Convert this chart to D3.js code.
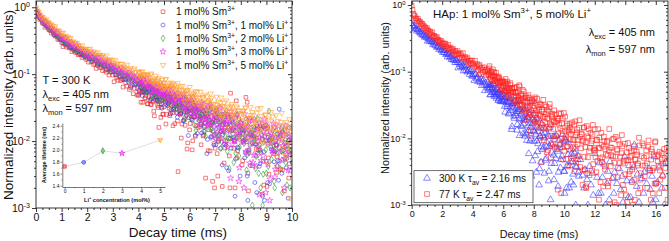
<!DOCTYPE html>
<html><head><meta charset="utf-8">
<script src="https://cdn.jsdelivr.net/npm/d3@7"></script>
<style>body{margin:0;background:#fff}svg{display:block}text{font-family:"Liberation Sans",Arial,Helvetica,sans-serif;fill:#111}</style>
</head><body><svg id="c" width="669" height="241"></svg>
<script>
// ---------------- DATA ----------------
// Left panel: decay curves, sampled every 0.05 ms from 0 to 10 ms (normalized intensity)
const leftStepMs = 0.05;
const decaySm1Li0 = [
0.94,0.74,0.74,0.66,0.67,0.58,0.57,0.5,0.53,0.51,0.46,0.45,0.41,0.44,0.39,0.37,0.37,0.33,0.335,0.33,
0.299,0.258,0.29,0.272,0.253,0.274,0.246,0.249,0.217,0.24,0.224,0.21,0.234,0.194,0.197,0.202,0.177,0.187,0.193,0.166,
0.174,0.151,0.169,0.152,0.168,0.139,0.145,0.122,0.142,0.142,0.124,0.127,0.113,0.135,0.114,0.107,0.117,0.097,0.107,0.109,
0.097,0.077,0.098,0.089,0.081,0.095,0.08,0.084,0.064,0.083,0.075,0.066,0.087,0.059,0.063,0.069,0.051,0.061,0.071,0.049,
0.048,0.054,0.038,0.055,0.058,0.043,0.048,0.036,0.058,0.04,0.035,0.047,0.028,0.04,0.046,0.034,0.016,0.039,0.032,0.025,
0.0325,0.038,0.025,0.051,0.031,0.026,0.039,0.017,0.033,0.039,0.027,0.0035,0.032,0.0255,0.018,0.037,0.021,0.028,0.0076,0.031,
0.0147,0.0286,0.0074,0.0231,0.0298,0.0171,0.0004,0.0233,0.0165,0.0088,0.0281,0.0123,0.019,0.0006,0.0225,0.0148,0.0071,0.0327,0.0025,0.0092,
0.0078,0.0225,0.003,0.0107,0.0003,0.0141,0.0178,0.0047,0.01,0.0005,0.023,0.006,0.052,0.0144,0.0002,0.01,0.0162,0.0056,0.0003,0.0116,
0.0164,0.0044,0.0099,0.0004,0.045,0.038,0.0018,0.022,0.0005,0.0043,0.0112,0.0003,0.0075,0.0165,0.0006,0.0073,0.0002,0.0106,0.0022,0.0154,
0.0003,0.0158,0.0032,0.0004,0.0096,0.0002,0.0065,0.0112,0.0034,0.0001,0.008,0.0038,0.0003,0.012,0.0018,0.0065,0.0002,0.0094,0.0046,0.0004,
0.0062];
const decaySm1Li1 = [
0.85,0.81,0.76,0.69,0.66,0.6,0.62,0.56,0.53,0.53,0.47,0.48,0.47,0.43,0.39,0.41,0.38,0.356,0.365,0.332,
0.326,0.29,0.312,0.292,0.275,0.299,0.255,0.256,0.258,0.23,0.239,0.244,0.214,0.219,0.2,0.211,0.196,0.206,0.182,0.186,
0.206,0.179,0.17,0.182,0.155,0.169,0.173,0.156,0.133,0.155,0.145,0.135,0.151,0.134,0.137,0.118,0.135,0.125,0.117,0.134,
0.108,0.111,0.115,0.097,0.105,0.111,0.091,0.096,0.083,0.095,0.084,0.096,0.077,0.082,0.066,0.081,0.083,0.07,0.072,0.061,
0.071,0.074,0.064,0.048,0.067,0.06,0.053,0.068,0.054,0.059,0.043,0.06,0.053,0.046,0.065,0.041,0.046,0.052,0.036,0.046,
0.0486,0.0392,0.0515,0.0337,0.0397,0.0254,0.0412,0.0437,0.0315,0.0359,0.0263,0.0463,0.0306,0.0261,0.0368,0.0202,0.0318,0.0369,0.0273,0.0121,
0.0316,0.0264,0.0206,0.0343,0.0226,0.0273,0.013,0.0293,0.0235,0.0177,0.036,0.014,0.0187,0.0247,0.0106,0.0205,0.0284,0.0117,0.019,0.0087,
0.0196,0.0222,0.0122,0.016,0.0078,0.0254,0.0124,0.009,0.0182,0.004,0.0144,0.0189,0.0108,0.0005,0.015,0.0105,0.0054,0.0183,0.0079,0.0125,
0.0007,0.0148,0.0102,0.0056,0.0214,0.003,0.0072,0.0125,0.0008,0.0094,0.0163,0.0024,0.0089,0.0005,0.0113,0.0046,0.0149,0.0015,0.0069,0.0003,
0.005,0.0024,0.0103,0.0002,0.0076,0.0115,0.0049,0.0003,0.0087,0.0051,0.03,0.0119,0.0033,0.0072,0.0003,0.0095,0.0055,0.0014,0.0158,0.0004,
0.0048];
const decaySm1Li2 = [
0.885,0.786,0.8,0.69,0.666,0.655,0.586,0.59,0.587,0.52,0.515,0.472,0.481,0.445,0.455,0.409,0.401,0.364,0.377,0.367,
0.333,0.333,0.306,0.334,0.298,0.283,0.293,0.26,0.271,0.272,0.251,0.223,0.245,0.231,0.218,0.231,0.21,0.211,0.188,0.204,
0.213,0.18,0.187,0.162,0.184,0.185,0.165,0.168,0.151,0.176,0.153,0.145,0.156,0.133,0.145,0.149,0.135,0.115,0.135,0.127,
0.117,0.13,0.115,0.118,0.1,0.115,0.107,0.1,0.117,0.092,0.096,0.101,0.084,0.093,0.1,0.081,0.087,0.075,0.087,0.076,
0.078,0.067,0.087,0.071,0.066,0.075,0.058,0.069,0.073,0.062,0.046,0.065,0.059,0.052,0.067,0.054,0.059,0.042,0.059,0.052,
0.0451,0.063,0.0405,0.0447,0.0502,0.0356,0.045,0.0524,0.0352,0.042,0.0312,0.0432,0.0344,0.0463,0.0302,0.0357,0.0223,0.0374,0.0402,0.0288,
0.0364,0.0219,0.032,0.0362,0.0278,0.0146,0.0314,0.0266,0.0212,0.0339,0.0232,0.0274,0.0142,0.0292,0.0238,0.0184,0.0352,0.0148,0.019,0.0244,
0.0112,0.0204,0.0278,0.0124,0.0192,0.0098,0.0214,0.0138,0.0248,0.01,0.0156,0.0039,0.018,0.0207,0.0108,0.0147,0.0066,0.0243,0.0114,0.0081,
0.0186,0.0112,0.0003,0.0149,0.0109,0.0063,0.0182,0.0087,0.0129,0.0011,0.0151,0.0105,0.0059,0.0217,0.0033,0.0075,0.0128,0.0011,0.0097,0.0167,
0.0033,0.0092,0.028,0.0114,0.0053,0.0147,0.0025,0.0074,0.0004,0.0096,0.0119,0.0038,0.0072,0.0005,0.0154,0.0048,0.0022,0.01,0.0002,0.0073,
0.0055];
const decaySm1Li3 = [
0.88,0.837,0.77,0.712,0.719,0.654,0.639,0.576,0.597,0.558,0.52,0.545,0.475,0.467,0.466,0.423,0.424,0.424,0.379,0.378,
0.343,0.361,0.335,0.35,0.308,0.311,0.278,0.299,0.296,0.27,0.27,0.249,0.272,0.244,0.232,0.24,0.213,0.224,0.224,0.208,
0.178,0.208,0.196,0.183,0.204,0.181,0.185,0.159,0.182,0.17,0.158,0.182,0.148,0.152,0.158,0.136,0.148,0.156,0.132,0.138,
0.131,0.114,0.128,0.129,0.115,0.117,0.106,0.124,0.108,0.101,0.11,0.092,0.103,0.106,0.095,0.079,0.097,0.09,0.082,0.096,
0.081,0.085,0.068,0.085,0.077,0.071,0.089,0.065,0.069,0.074,0.057,0.067,0.074,0.056,0.063,0.052,0.064,0.054,0.067,0.049,
0.0602,0.0488,0.0523,0.0429,0.0614,0.0467,0.0425,0.0519,0.0359,0.0466,0.0508,0.0414,0.0267,0.0446,0.039,0.0328,0.0461,0.034,0.0383,0.0241,
0.04,0.0345,0.029,0.0458,0.0253,0.0294,0.0348,0.0216,0.0306,0.0378,0.0216,0.0281,0.0184,0.0298,0.022,0.0328,0.0178,0.0232,0.0112,0.0251,
0.0276,0.0175,0.0212,0.013,0.0306,0.0176,0.0142,0.0234,0.0092,0.0196,0.024,0.0158,0.0028,0.0198,0.0152,0.01,0.0229,0.0124,0.0169,0.004,
0.019,0.0143,0.0097,0.0254,0.007,0.0111,0.0164,0.0047,0.0132,0.0202,0.0062,0.0127,0.0042,0.015,0.0082,0.0185,0.0051,0.0104,0.0005,0.0127,
0.017,0.0045,0.0103,0.0027,0.0126,0.0065,0.0159,0.0038,0.0087,0.0003,0.0109,0.0133,0.0052,0.0086,0.002,0.0169,0.0063,0.0037,0.0116,0.0002,
0.0068];
const decaySm1Li5 = [
1.0,0.891,0.85,0.778,0.69,0.725,0.68,0.639,0.656,0.6,0.589,0.533,0.556,0.523,0.491,0.518,0.451,0.447,0.445,0.404,
0.41,0.417,0.366,0.372,0.34,0.357,0.331,0.346,0.305,0.307,0.276,0.295,0.292,0.267,0.266,0.246,0.269,0.241,0.229,0.238,
0.219,0.235,0.239,0.219,0.191,0.217,0.206,0.194,0.212,0.191,0.195,0.171,0.191,0.18,0.169,0.19,0.159,0.162,0.167,0.148,
0.161,0.149,0.161,0.139,0.144,0.126,0.142,0.143,0.127,0.13,0.116,0.138,0.119,0.113,0.124,0.104,0.116,0.121,0.108,0.088,
0.11,0.102,0.094,0.109,0.094,0.098,0.079,0.098,0.09,0.081,0.102,0.075,0.079,0.086,0.068,0.079,0.088,0.067,0.075,0.061,
0.0618,0.0833,0.0665,0.0618,0.0728,0.0545,0.067,0.072,0.0613,0.0445,0.0633,0.057,0.05,0.0655,0.0518,0.0568,0.04,0.0585,0.0515,0.0445,
0.0641,0.04,0.0446,0.0511,0.0359,0.0461,0.0547,0.0367,0.0441,0.0326,0.0456,0.0366,0.0493,0.0319,0.0383,0.0244,0.0406,0.0435,0.0317,0.036,
0.0269,0.0458,0.0315,0.0276,0.0375,0.0219,0.033,0.0376,0.0286,0.0143,0.0326,0.0276,0.022,0.0359,0.0245,0.0293,0.0152,0.0317,0.0261,0.0205,
0.0258,0.0164,0.028,0.0204,0.0314,0.0166,0.0222,0.0104,0.0244,0.027,0.017,0.0209,0.0128,0.0305,0.0176,0.0143,0.0236,0.0095,0.02,0.0245,
0.0165,0.0046,0.0203,0.0161,0.0114,0.0232,0.0136,0.0177,0.0058,0.0198,0.0151,0.0105,0.0263,0.0079,0.0121,0.0174,0.0057,0.0143,0.0212,0.0073,
0.0125];
// Left panel, interleaved samples in the noisy tail (4.025 ms to 9.975 ms, every 0.05 ms)
const leftLateStartMs = 4.025;
const decaySm1Li0Late = [
0.0502,0.0634,0.0528,0.038,0.0562,0.0446,0.062,0.0362,0.0462,0.0356,0.0546,0.0384,0.0238,0.0418,0.044,0.0318,0.0356,0.0226,0.0408,0.0254,
0.0415,0.018,0.0422,0.0367,0.024,0.0455,0.0265,0.03,0.0182,0.0447,0.0199,0.0333,0.0251,0.0111,0.0358,0.0276,0.0172,0.0419,0.0094,0.0224,
0.0183,0.0385,0.0101,0.0231,0.0118,0.0333,0.0157,0.0005,0.0219,0.025,0.0119,0.0168,0.0028,0.0239,0.0072,0.0175,0.0003,0.0192,0.0142,0.002,
0.023,0.0065,0.0102,0.0003,0.024,0.0021,0.0146,0.0079,0.0003,0.0177,0.011,0.002,0.0242,0.0003,0.0078,0.002,0.04,0.0072,0.0002,0.0132,
0.0185,0.0051,0.0003,0.0105,0.0132,0.0033,0.0074,0.0003,0.0135,0.0008,0.0091,0.0002,0.011,0.0074,0.0003,0.0157,0.0016,0.005,0.0003,0.0175,
0.0021,0.0056,0.0002,0.0109,0.0003,0.0072,0.0001,0.0088,0.0058,0.0002,0.0128,0.0008,0.0037,0.0002,0.0144,0.0002,0.0077,0.0028,0.0002,0.0105];
const decaySm1Li1Late = [
0.0575,0.0723,0.0629,0.077,0.0543,0.0628,0.0534,0.0699,0.0546,0.0417,0.0582,0.06,0.0492,0.0514,0.0399,0.0557,0.0421,0.0495,0.031,0.0496,
0.0451,0.035,0.0515,0.0365,0.039,0.0296,0.0496,0.0297,0.0399,0.0338,0.0228,0.0414,0.0348,0.0261,0.0452,0.0202,0.0297,0.0243,0.0371,0.0282,
0.0296,0.0212,0.0369,0.0239,0.0122,0.0279,0.0299,0.0202,0.0235,0.0132,0.0282,0.016,0.0233,0.0065,0.0242,0.0205,0.0115,0.0273,0.0138,0.0165,
0.0088,0.0264,0.0098,0.019,0.0138,0.0044,0.0208,0.0156,0.0086,0.025,0.0036,0.0123,0.0078,0.0189,0.0114,0.0015,0.0156,0.0081,0.0217,0.003,
0.0003,0.0126,0.0146,0.0067,0.0098,0.0013,0.0144,0.0043,0.0107,0.0003,0.0119,0.009,0.0017,0.0154,0.0042,0.0068,0.0002,0.0164,0.0013,0.0101,
0.0003,0.0114,0.0023,0.0082,0.0002,0.0095,0.0069,0.0003,0.0127,0.0026,0.005,0.0003,0.0138,0.0002,0.0081,0.004,0.0002,0.0104,0.0063,0.0008];
const decaySm1Li2Late = [
0.091,0.0673,0.0768,0.0664,0.0829,0.0676,0.0547,0.0702,0.072,0.0602,0.0624,0.0509,0.0667,0.0531,0.0605,0.042,0.0606,0.0551,0.045,0.0615,
0.0458,0.048,0.0392,0.0577,0.0392,0.0486,0.0424,0.0316,0.0488,0.0426,0.0345,0.0517,0.0279,0.0372,0.0321,0.0435,0.0347,0.0238,0.0389,0.0301,
0.0262,0.0405,0.0284,0.0176,0.032,0.0338,0.0248,0.0278,0.0182,0.0321,0.0208,0.0274,0.0118,0.028,0.0244,0.016,0.0304,0.0178,0.0202,0.0124,
0.0298,0.0132,0.0224,0.0172,0.0078,0.0242,0.019,0.012,0.0284,0.007,0.0156,0.0111,0.0222,0.0147,0.0048,0.0189,0.0114,0.0249,0.006,0.0147,
0.0153,0.0172,0.0092,0.0122,0.0037,0.0168,0.0067,0.0131,0.0002,0.0143,0.0113,0.0039,0.0175,0.0063,0.0088,0.002,0.0183,0.0032,0.0118,0.0074,
0.0133,0.0042,0.0101,0.0002,0.0113,0.0087,0.002,0.0144,0.0043,0.0066,0.0004,0.0153,0.0017,0.0095,0.0054,0.0002,0.0117,0.0075,0.002,0.0158];
const decaySm1Li3Late = [
0.0816,0.0677,0.0832,0.085,0.0732,0.0764,0.0639,0.0797,0.0651,0.0715,0.052,0.0706,0.0651,0.055,0.0715,0.0565,0.058,0.0486,0.0686,0.0487,
0.0576,0.0514,0.0406,0.0578,0.0516,0.0435,0.0607,0.0369,0.0457,0.0401,0.0515,0.0427,0.0313,0.0459,0.037,0.051,0.0299,0.0386,0.0298,0.0456,
0.04,0.0309,0.0338,0.0242,0.0379,0.0264,0.033,0.0174,0.0336,0.03,0.021,0.0353,0.0226,0.025,0.0172,0.0346,0.0178,0.0268,0.0214,0.0119,
0.0282,0.0229,0.0158,0.0322,0.0108,0.0194,0.0148,0.0258,0.0182,0.0082,0.0222,0.0146,0.028,0.009,0.0176,0.01,0.0247,0.013,0.0025,0.0172,
0.0097,0.016,0.002,0.0171,0.0142,0.0067,0.0203,0.009,0.0116,0.0048,0.0211,0.0061,0.0147,0.01,0.0016,0.0168,0.0122,0.006,0.0212,0.0017,
0.0155,0.0094,0.0013,0.0132,0.0071,0.0185,0.0029,0.0103,0.0042,0.0166,0.0069,0.0003,0.0107,0.0126,0.0055,0.0084,0.0008,0.0127,0.0036,0.0095];
const decaySm1Li5Late = [
0.1056,0.0916,0.1088,0.0924,0.1,0.078,0.0984,0.0924,0.08,0.098,0.08,0.083,0.0714,0.0944,0.0708,0.0826,0.0742,0.0612,0.0826,0.0742,
0.0648,0.0848,0.0575,0.0678,0.0615,0.0748,0.0648,0.0518,0.0688,0.0588,0.073,0.0488,0.059,0.049,0.0668,0.0515,0.0378,0.0555,0.0575,0.046,
0.034,0.0526,0.0481,0.0385,0.0555,0.0405,0.0435,0.0346,0.0546,0.0347,0.0449,0.0387,0.0276,0.0466,0.0404,0.0321,0.0511,0.026,0.0359,0.0304,
0.0347,0.0237,0.0387,0.0302,0.0446,0.0239,0.033,0.0246,0.0403,0.0273,0.0157,0.0315,0.0337,0.0242,0.0277,0.0176,0.0328,0.0207,0.0281,0.0114,
0.0288,0.0254,0.0172,0.0318,0.0194,0.022,0.0144,0.032,0.0154,0.0246,0.0194,0.0101,0.0266,0.0215,0.0146,0.0311,0.0098,0.0185,0.014,0.0251,
0.0088,0.0217,0.0148,0.0271,0.0098,0.0177,0.0108,0.0243,0.0135,0.0038,0.0173,0.0193,0.0114,0.0145,0.0061,0.0191,0.009,0.0154,0.0014,0.0166];
const leftLiLabels = ["", "1", "2", "3", "5"];

// Inset: average lifetime vs Li+ concentration
const insetLiConc = [0, 1, 2, 3, 5];
const insetLifetimeMs = [1.72, 1.79, 1.98, 1.94, 2.16];

// Right panel: HAp: 1 mol% Sm3+, 5 mol% Li+, sampled every 0.05 ms from 0 to 16.75 ms
const rightStepMs = 0.05;
const decay300K = [
0.525,0.482,0.492,0.464,0.481,0.438,0.441,0.407,0.428,0.424,0.394,0.392,0.369,0.395,0.364,0.35,0.359,0.329,0.34,0.341,
0.321,0.287,0.317,0.301,0.286,0.305,0.28,0.283,0.254,0.276,0.262,0.248,0.272,0.233,0.236,0.24,0.216,0.226,0.232,0.206,
0.213,0.194,0.21,0.194,0.209,0.181,0.187,0.166,0.183,0.184,0.166,0.168,0.153,0.174,0.154,0.148,0.157,0.137,0.147,0.149,
0.137,0.114,0.138,0.129,0.119,0.135,0.117,0.122,0.103,0.122,0.114,0.105,0.125,0.099,0.103,0.108,0.091,0.1,0.107,0.088,
0.085,0.091,0.074,0.091,0.092,0.078,0.081,0.071,0.09,0.075,0.069,0.078,0.062,0.071,0.075,0.065,0.052,0.068,0.062,0.057,
0.07,0.057,0.061,0.045,0.062,0.055,0.049,0.066,0.045,0.049,0.053,0.04,0.048,0.054,0.039,0.045,0.036,0.045,0.038,0.046,
0.0365,0.0404,0.0303,0.0503,0.0346,0.0301,0.0403,0.0232,0.0348,0.0394,0.0293,0.0136,0.0329,0.0275,0.0214,0.0358,0.0234,0.0285,0.0133,0.031,
0.0252,0.0194,0.0358,0.0155,0.0198,0.0248,0.0117,0.0208,0.0276,0.0121,0.0188,0.0093,0.0208,0.0131,0.024,0.0091,0.0146,0.0027,0.0166,0.0191,
0.036,0.0125,0.0055,0.0201,0.0092,0.0063,0.0139,0.002,0.0107,0.0144,0.0076,0.0001,0.011,0.0072,0.003,0.0137,0.005,0.0088,0.0001,0.0108,
0.0032,0.0146,0.0012,0.0042,0.008,0.0001,0.0056,0.0106,0.0004,0.005,0.0001,0.0068,0.0019,0.0094,0.0001,0.0036,0.0001,0.0054,0.0073,0.0008,
0.0032,0.0001,0.0092,0.0018,0.0001,0.0057,0.0001,0.0039,0.0067,0.0022,0.0001,0.0045,0.002,0.0001,0.0069,0.001,0.0037,0.0001,0.0055,0.0027,
0.0001,0.0048,0.0006,0.0001,0.0028,0.0001,0.0018,0.0034,0.0008,0.0001,0.0024,0.001,0.0001,0.0038,0.0004,0.002,0.0001,0.003,0.0014,0.0001,
0.0059,0.0001,0.0004,0.0026,0.0001,0.0015,0.0043,0.0001,0.0015,0.0001,0.0026,0.0001,0.0041,0.0001,0.001,0.0001,0.0021,0.0032,0.0001,0.0012,
0.0045,0.0003,0.0001,0.0025,0.0001,0.0015,0.0031,0.0005,0.0001,0.0021,0.0007,0.0001,0.0035,0.0001,0.0017,0.0001,0.0027,0.0011,0.0001,0.0053,
0.0001,0.0003,0.0023,0.0001,0.0013,0.0039,0.0001,0.0013,0.0001,0.0023,0.0001,0.0037,0.008,0.0009,0.0001,0.0019,0.0029,0.0001,0.0011,0.0001,
0.0003,0.0001,0.0025,0.0001,0.0015,0.0031,0.0005,0.0001,0.0021,0.0007,0.0001,0.0035,0.0001,0.0017,0.0001,0.0027,0.0011,0.0001,0.0053,0.0001,
0.0012,0.0001,0.0022,0.0001,0.0036,0.0001,0.0008,0.0001,0.0018,0.0028,0.0001,0.001,0.0001,0.0044,0.0002,0.0001];
const decay77K = [
0.98,0.85,0.74,0.702,0.682,0.63,0.624,0.585,0.624,0.572,0.548,0.565,0.513,0.526,0.523,0.489,0.448,0.475,0.455,0.429,
0.449,0.41,0.413,0.37,0.4,0.379,0.358,0.391,0.336,0.339,0.345,0.309,0.322,0.331,0.293,0.301,0.276,0.293,0.274,0.288,
0.258,0.266,0.237,0.263,0.264,0.239,0.242,0.222,0.253,0.225,0.215,0.229,0.2,0.215,0.219,0.202,0.178,0.204,0.194,0.183,
0.204,0.182,0.187,0.162,0.187,0.175,0.164,0.19,0.154,0.159,0.166,0.143,0.155,0.163,0.138,0.146,0.131,0.146,0.134,0.147,
0.128,0.133,0.118,0.146,0.123,0.116,0.13,0.106,0.121,0.126,0.112,0.091,0.115,0.107,0.098,0.116,0.101,0.106,0.088,0.108,
0.101,0.09,0.121,0.082,0.089,0.098,0.073,0.088,0.099,0.072,0.083,0.067,0.083,0.068,0.085,0.063,0.07,0.053,0.07,0.071,
0.061,0.066,0.052,0.078,0.057,0.052,0.065,0.043,0.057,0.063,0.051,0.034,0.055,0.049,0.042,0.057,0.044,0.048,0.033,0.049,
0.0376,0.0627,0.032,0.0382,0.0462,0.0263,0.0397,0.0504,0.0269,0.0367,0.0232,0.0402,0.0284,0.0445,0.0229,0.0309,0.0128,0.0344,0.0379,0.0235,
0.0286,0.0177,0.0412,0.0239,0.0194,0.0317,0.0128,0.0267,0.0326,0.0217,0.0044,0.0271,0.021,0.0142,0.0314,0.0174,0.0234,0.0062,0.0266,0.0198,
0.0141,0.0327,0.0109,0.0158,0.022,0.0081,0.0182,0.0263,0.0098,0.0173,0.0072,0.0199,0.0118,0.0239,0.008,0.0142,0.0015,0.0168,0.0198,0.009,
0.0065,0.0212,0.0104,0.0077,0.0155,0.0038,0.0126,0.0164,0.0097,0.0004,0.0133,0.0096,0.0054,0.0162,0.0075,0.0113,0.0007,0.0136,0.0095,0.0054,
0.0187,0.0037,0.0071,0.0115,0.002,0.009,0.0147,0.0034,0.0087,0.0018,0.0107,0.0052,0.0137,0.0028,0.0072,0.0005,0.0092,0.0114,0.0041,0.0071,
0.0137,0.0052,0.0031,0.0094,0.0001,0.0072,0.0103,0.005,0.0001,0.008,0.0052,0.0019,0.0106,0.0038,0.0069,0.0004,0.0088,0.0055,0.0023,0.0138,
0.001,0.0038,0.0072,0.0001,0.0054,0.0099,0.0011,0.0053,0.0001,0.0069,0.0026,0.0093,0.0009,0.0043,0.0001,0.006,0.0076,0.002,0.0045,0.0001,
0.0029,0.0014,0.0062,0.0001,0.0047,0.0071,0.0032,0.0001,0.0055,0.0034,0.001,0.0076,0.0024,0.0048,0.0001,0.0063,0.0039,0.0015,0.0102,0.0003,
0.0024,0.0054,0.0001,0.0039,0.0078,0.0003,0.0039,0.0001,0.0054,0.0018,0.0075,0.0003,0.0033,0.0001,0.0048,0.0063,0.0015,0.0036,0.0001,0.0087,
0.0021,0.0006,0.0054,0.0001,0.0039,0.0063,0.0024,0.0001,0.0048,0.0027,0.0003,0.0069,0.0018,0.0042,0.0001,0.0057];
// Right panel, interleaved samples in the tail (from 5.025 ms, every 0.05 ms)
const rightLateStartMs = 5.025;
const decay300KLate = [
0.0535,0.064,0.0573,0.0452,0.0629,0.0566,0.0485,0.0651,0.0424,0.0506,0.0445,0.0543,0.0466,0.0369,0.0488,0.0415,0.0521,0.0356,0.0419,0.0353,
0.0519,0.0376,0.0247,0.0412,0.043,0.0322,0.0354,0.0239,0.0397,0.0261,0.0335,0.015,0.0336,0.0296,0.02,0.0365,0.022,0.025,0.0161,0.0366,
0.027,0.011,0.0268,0.0233,0.015,0.029,0.0165,0.019,0.0108,0.0283,0.0116,0.0207,0.0154,0.0059,0.0222,0.0169,0.0098,0.0261,0.0046,0.0131,
0.009,0.018,0.0115,0.0031,0.0147,0.0083,0.0194,0.0035,0.0107,0.0044,0.0166,0.0068,0.0002,0.0102,0.012,0.0047,0.0075,0.0002,0.0115,0.0023,
0.0076,0.0002,0.0084,0.0062,0.0008,0.0106,0.0024,0.0042,0.0002,0.011,0.0001,0.0064,0.0031,0.0002,0.0081,0.0048,0.0003,0.0114,0.0002,0.0032,
0.0015,0.0095,0.0001,0.0039,0.0002,0.0085,0.0018,0.0001,0.0044,0.0058,0.0008,0.0029,0.0001,0.006,0.0001,0.0038,0.0001,0.0048,0.0031,0.0001];
const decay77KLate = [
0.0919,0.1121,0.0961,0.0763,0.1008,0.0858,0.1079,0.0738,0.087,0.0732,0.0963,0.0761,0.0587,0.0793,0.0806,0.0676,0.0707,0.0565,0.0736,0.0577,
0.071,0.045,0.069,0.0637,0.0502,0.071,0.0527,0.055,0.0443,0.0673,0.045,0.0564,0.0493,0.0372,0.0566,0.0498,0.0412,0.0592,0.0348,0.0436,
0.0403,0.06,0.0311,0.0436,0.0318,0.0533,0.0352,0.0189,0.0404,0.043,0.0304,0.0348,0.0203,0.0409,0.0247,0.0345,0.011,0.0362,0.0307,0.019,
0.039,0.0225,0.026,0.0159,0.0394,0.0173,0.0296,0.0227,0.0102,0.0321,0.0252,0.0159,0.0378,0.0094,0.021,0.015,0.0298,0.0198,0.0066,0.0254,
0.0291,0.0164,0.0051,0.021,0.0233,0.0139,0.0175,0.0075,0.0228,0.0108,0.0183,0.0017,0.0196,0.016,0.0073,0.0233,0.01,0.0129,0.0048,0.024,
0.01,0.0127,0.0049,0.0167,0.0075,0.0133,0.0006,0.0144,0.0117,0.005,0.0173,0.0071,0.0094,0.0032,0.018,0.0043,0.0122,0.0081,0.0005,0.0144,
0.0106,0.0002,0.0116,0.0093,0.0033,0.0144,0.0053,0.0074,0.0019,0.0153,0.003,0.0102,0.0064,0.0004,0.0121,0.0084,0.0033,0.0159,0.0002,0.0067,
0.0065,0.0002,0.0095,0.0046,0.0137,0.0012,0.0071,0.0022,0.0121,0.0044,0.0002,0.0075,0.009,0.0034,0.0057,0.0002,0.0092,0.0019,0.0067,0.0002,
0.0073,0.0056,0.0009,0.0097,0.0026,0.0043,0.0002,0.0105,0.001,0.0066,0.0036,0.0002,0.0082,0.0053,0.0014,0.0112,0.0002,0.0042,0.0017,0.0083,
0.0002,0.0047,0.0011,0.0085,0.0029,0.0002,0.0052,0.0064,0.0022,0.004,0.0002,0.0066,0.0012,0.0048,0.0002,0.0057,0.0042,0.0003,0.0078,0.0018,
0.003,0.0002,0.0084,0.0003,0.0051,0.0027,0.0002,0.0066,0.0042,0.0009,0.0093,0.0002,0.0033,0.0012,0.0069,0.0033,0.0002,0.0057,0.0021,0.009,
0.0021,0.0002,0.0045,0.0057,0.0015,0.0033,0.0002,0.006,0.0006,0.0042,0.0002,0.0051,0.0036,0.0003,0.0072,0.0012];
const rightLegend = [["300 K", "2.16"], ["77 K", "2.47"]];
const yMajorTicks = [1e-3, 1e-2, 1e-1, 1];

// ---------------- DRAWING ----------------
const svg = d3.select("#c");

function rich(sel, parts, base) {
  let shift = 0;
  parts.forEach(p => {
    const target = p.sup ? -0.4 * base : p.sub ? 0.3 * base : 0;
    const ts = sel.append("tspan").text(p.t);
    if (Math.abs(target - shift) > 1e-6) ts.attr("dy", target - shift);
    if (p.sup || p.sub) ts.attr("font-size", 0.68 * base);
    shift = target;
  });
  return sel;
}

function styleAxis(g, sw) {
  g.select(".domain").remove();
  g.selectAll(".tick line").attr("stroke", "#222").attr("stroke-width", sw);
}

function decayPanel(o) {
  const x = d3.scaleLinear().domain(o.xDomain).range([o.x0, o.x1]);
  const y = d3.scaleLog().domain(o.yDomain).range([o.y1, o.y0]);
  svg.append("clipPath").attr("id", o.id).append("rect")
    .attr("x", o.x0).attr("y", o.y0).attr("width", o.x1 - o.x0).attr("height", o.y1 - o.y0);
  const plot = svg.append("g").attr("clip-path", `url(#${o.id})`);
  o.series.forEach(s => {
    const d = d3.symbol(s.type, s.size)();
    const pts = s.values.map((v, i) => ({t: i * o.step, v}))
      .concat(s.late.map((v, i) => ({t: o.lateStart + i * o.step, v})))
      .filter(p => p.v > 0);
    plot.append("g").attr("fill", "none").attr("stroke", s.color).attr("stroke-width", s.sw)
      .selectAll("path").data(pts)
      .join("path").attr("d", d)
      .attr("transform", p => `translate(${x(p.t)},${y(p.v)})` + (s.rot ? ` rotate(${s.rot})` : ""));
  });
  const majX = d3.range(o.xDomain[0], o.xDomain[1] + 1e-9, o.xMajor);
  const minX = d3.range(o.xDomain[0], o.xDomain[1] + 1e-9, o.xMinor)
    .filter(v => Math.abs(v / o.xMajor - Math.round(v / o.xMajor)) > 1e-6);
  const minY = [];
  [-3, -2, -1, 0].forEach(k => d3.range(2, 10).forEach(m => {
    const v = m * Math.pow(10, k);
    if (v <= o.yDomain[1]) minY.push(v);
  }));
  const mk = 4, mn = 2, sw = 0.9;
  svg.append("g").attr("transform", `translate(0,${o.y1})`)
    .call(d3.axisBottom(x).tickValues(majX).tickSize(mk).tickPadding(2).tickFormat(d3.format("d")))
    .call(g => styleAxis(g, sw))
    .call(g => g.selectAll(".tick text").attr("font-size", o.tickFont).attr("fill", "#111")
      .attr("font-family", '"Liberation Sans",Arial,sans-serif'));
  svg.append("g").attr("transform", `translate(0,${o.y1})`)
    .call(d3.axisBottom(x).tickValues(minX).tickSize(mn).tickFormat(""))
    .call(g => styleAxis(g, sw));
  svg.append("g").attr("transform", `translate(0,${o.y0})`)
    .call(d3.axisBottom(x).tickValues(majX).tickSize(mk).tickFormat(""))
    .call(g => styleAxis(g, sw));
  svg.append("g").attr("transform", `translate(0,${o.y0})`)
    .call(d3.axisBottom(x).tickValues(minX).tickSize(mn).tickFormat(""))
    .call(g => styleAxis(g, sw));
  svg.append("g").attr("transform", `translate(${o.x0},0)`)
    .call(d3.axisLeft(y).tickValues(yMajorTicks).tickSize(mk).tickFormat(""))
    .call(g => styleAxis(g, sw));
  svg.append("g").attr("transform", `translate(${o.x0},0)`)
    .call(d3.axisLeft(y).tickValues(minY).tickSize(mn).tickFormat(""))
    .call(g => styleAxis(g, sw));
  svg.append("g").attr("transform", `translate(${o.x1},0)`)
    .call(d3.axisLeft(y).tickValues(yMajorTicks).tickSize(mk).tickFormat(""))
    .call(g => styleAxis(g, sw));
  svg.append("g").attr("transform", `translate(${o.x1},0)`)
    .call(d3.axisLeft(y).tickValues(minY).tickSize(mn).tickFormat(""))
    .call(g => styleAxis(g, sw));
  yMajorTicks.forEach(v => {
    const e = Math.round(Math.log10(v));
    const t = svg.append("text").attr("x", o.x0 - 6).attr("y", y(v) + o.tickFont * 0.36)
      .attr("text-anchor", "end").attr("font-size", o.tickFont);
    rich(t, [{t: "10"}, {t: e === 0 ? "0" : "-" + Math.abs(e), sup: true}], o.tickFont);
  });
  svg.append("rect").attr("x", o.x0).attr("y", o.y0).attr("width", o.x1 - o.x0).attr("height", o.y1 - o.y0)
    .attr("fill", "none").attr("stroke", "#222").attr("stroke-width", sw);
  svg.append("text").attr("x", o.xTitleX).attr("y", o.xTitleY).attr("text-anchor", "middle")
    .attr("font-size", o.titleFont).text("Decay time (ms)");
  svg.append("text").attr("transform", `translate(${o.yTitleX},${o.yTitleY}) rotate(-90)`)
    .attr("text-anchor", "middle").attr("font-size", o.titleFont).text("Normalized intensity (arb. units)");
  return {x, y};
}

// ---- Left panel ----
const leftColors = ["#ec2424", "#3434ec", "#2a9a2a", "#ec2aec", "#ffa030"];
const leftTypes = [d3.symbolSquare, d3.symbolCircle, d3.symbolDiamond, d3.symbolStar, d3.symbolTriangle];
const leftSizes = [13, 12, 12, 12, 13];
const leftRot = [0, 0, 0, 0, 180];
const leftData = [decaySm1Li0, decaySm1Li1, decaySm1Li2, decaySm1Li3, decaySm1Li5];
const leftLate = [decaySm1Li0Late, decaySm1Li1Late, decaySm1Li2Late, decaySm1Li3Late, decaySm1Li5Late];
decayPanel({
  id: "clipL", x0: 36, x1: 292, y0: 1, y1: 208, xDomain: [0, 10], yDomain: [1e-3, 1.24],
  xMajor: 1, xMinor: 0.25, step: leftStepMs, lateStart: leftLateStartMs, tickFont: 10.5, titleFont: 13.5,
  xTitleX: 178, xTitleY: 236.5, yTitleX: 13, yTitleY: 105,
  series: leftData.map((v, i) => ({values: v, late: leftLate[i], color: leftColors[i], type: leftTypes[i], size: leftSizes[i], rot: leftRot[i], sw: 0.6}))
});
const legRows = [11.7, 25, 38.3, 51.7, 65];
leftLiLabels.forEach((li, i) => {
  svg.append("path").attr("d", d3.symbol(leftTypes[i], leftSizes[i])())
    .attr("transform", `translate(163,${legRows[i]})` + (leftRot[i] ? ` rotate(${leftRot[i]})` : ""))
    .attr("fill", "none").attr("stroke", leftColors[i]).attr("stroke-width", 0.6);
  const parts = [{t: "1 mol% Sm"}, {t: "3+", sup: true}];
  if (li) { parts.push({t: ", " + li + " mol% Li"}, {t: "+", sup: true}); }
  rich(svg.append("text").attr("x", 176).attr("y", legRows[i] + 3.6).attr("font-size", 10), parts, 10);
});
rich(svg.append("text").attr("x", 42.5).attr("y", 84).attr("font-size", 11), [{t: "T = 300 K"}], 11);
rich(svg.append("text").attr("x", 42.5).attr("y", 97.5).attr("font-size", 11), [{t: "λ"}, {t: "exc", sub: true}, {t: " = 405 nm"}], 11);
rich(svg.append("text").attr("x", 42.5).attr("y", 112).attr("font-size", 11), [{t: "λ"}, {t: "mon", sub: true}, {t: " = 597 nm"}], 11);

// ---- Inset ----
const ix = d3.scaleLinear().domain([-0.12, 5.25]).range([62.3, 165]);
const iy = d3.scaleLinear().domain([1.378, 2.445]).range([187, 123]);
const insetFont = 5;
svg.append("g").attr("transform", "translate(0,187)")
  .call(d3.axisBottom(ix).tickValues(d3.range(0, 6)).tickSize(1.8).tickSizeOuter(0).tickPadding(1).tickFormat(d3.format("d")))
  .call(g => { g.select(".domain").attr("stroke", "#222").attr("stroke-width", 0.6);
    g.selectAll(".tick line").attr("stroke", "#222").attr("stroke-width", 0.5);
    g.selectAll(".tick text").attr("font-size", insetFont).attr("fill", "#111"); });
svg.append("g").attr("transform", "translate(0,187)")
  .call(d3.axisBottom(ix).tickValues(d3.range(0.5, 5.2, 1)).tickSize(1).tickFormat(""))
  .call(g => { g.select(".domain").remove(); g.selectAll(".tick line").attr("stroke", "#222").attr("stroke-width", 0.5); });
svg.append("g").attr("transform", "translate(62.3,0)")
  .call(d3.axisLeft(iy).tickValues([1.4, 1.6, 1.8, 2.0, 2.2, 2.4]).tickSize(1.8).tickSizeOuter(0).tickPadding(1).tickFormat(d3.format(".1f")))
  .call(g => { g.select(".domain").attr("stroke", "#222").attr("stroke-width", 0.6);
    g.selectAll(".tick line").attr("stroke", "#222").attr("stroke-width", 0.5);
    g.selectAll(".tick text").attr("font-size", insetFont).attr("fill", "#111"); });
svg.append("g").attr("transform", "translate(62.3,0)")
  .call(d3.axisLeft(iy).tickValues([1.5, 1.7, 1.9, 2.1, 2.3]).tickSize(1).tickFormat(""))
  .call(g => { g.select(".domain").remove(); g.selectAll(".tick line").attr("stroke", "#222").attr("stroke-width", 0.5); });
svg.append("path").datum(insetLiConc.map((c, i) => [c, insetLifetimeMs[i]]))
  .attr("d", d3.line().x(d => ix(d[0])).y(d => iy(d[1])))
  .attr("fill", "none").attr("stroke", "#c8c8c8").attr("stroke-width", 0.6);
insetLiConc.forEach((c, i) => {
  svg.append("path").attr("d", d3.symbol(leftTypes[i], 11)())
    .attr("transform", `translate(${ix(c)},${iy(insetLifetimeMs[i])})` + (leftRot[i] ? ` rotate(${leftRot[i]})` : ""))
    .attr("fill", leftColors[i]).attr("fill-opacity", 0.45).attr("stroke", leftColors[i]).attr("stroke-width", 0.7);
});
svg.append("text").attr("transform", "translate(46,155) rotate(-90)").attr("text-anchor", "middle")
  .attr("font-size", 5.6).attr("font-weight", "bold").text("Average lifetime (ms)");
rich(svg.append("text").attr("x", 117).attr("y", 201.5).attr("text-anchor", "middle").attr("font-size", 5.6).attr("font-weight", "bold"),
  [{t: "Li"}, {t: "+", sup: true}, {t: " concentration (mol%)"}], 5.6);

// ---- Right panel ----
const rightColors = ["#3a3aff", "#ff2424"];
decayPanel({
  id: "clipR", x0: 411.7, x1: 668, y0: 1, y1: 205, xDomain: [0, 16.8], yDomain: [1e-3, 1.15],
  xMajor: 2, xMinor: 0.5, step: rightStepMs, lateStart: rightLateStartMs, tickFont: 9, titleFont: 10.8,
  xTitleX: 539, xTitleY: 238, yTitleX: 388.5, yTitleY: 98,
  series: [
    {values: decay300K, late: decay300KLate, color: rightColors[0], type: d3.symbolTriangle, size: 20, rot: 0, sw: 0.6},
    {values: decay77K, late: decay77KLate, color: rightColors[1], type: d3.symbolSquare, size: 22, rot: 0, sw: 0.6}
  ]
});
rich(svg.append("text").attr("x", 512).attr("y", 17.5).attr("text-anchor", "middle").attr("font-size", 11.5),
  [{t: "HAp: 1 mol% Sm"}, {t: "3+", sup: true}, {t: ", 5 mol% Li"}, {t: "+", sup: true}], 11.5);
rich(svg.append("text").attr("x", 655).attr("y", 35.5).attr("text-anchor", "end").attr("font-size", 11),
  [{t: "λ"}, {t: "exc", sub: true}, {t: " = 405 nm"}], 11);
rich(svg.append("text").attr("x", 655).attr("y", 53).attr("text-anchor", "end").attr("font-size", 11),
  [{t: "λ"}, {t: "mon", sub: true}, {t: " = 597 nm"}], 11);
svg.append("rect").attr("x", 414).attr("y", 170.7).attr("width", 119).attr("height", 32)
  .attr("fill", "#fff").attr("stroke", "#333").attr("stroke-width", 0.7);
const rLegRows = [178.3, 194];
const rTypes = [d3.symbolTriangle, d3.symbolSquare];
rightLegend.forEach((r, i) => {
  svg.append("path").attr("d", d3.symbol(rTypes[i], i ? 22 : 20)())
    .attr("transform", `translate(427,${rLegRows[i]})`)
    .attr("fill", "none").attr("stroke", rightColors[i]).attr("stroke-width", 0.6);
  rich(svg.append("text").attr("x", 439).attr("y", rLegRows[i] + 3.5).attr("font-size", 10),
    [{t: r[0] + " τ"}, {t: "av", sub: true}, {t: " = " + r[1] + " ms"}], 10);
});
</script>
</body></html>
